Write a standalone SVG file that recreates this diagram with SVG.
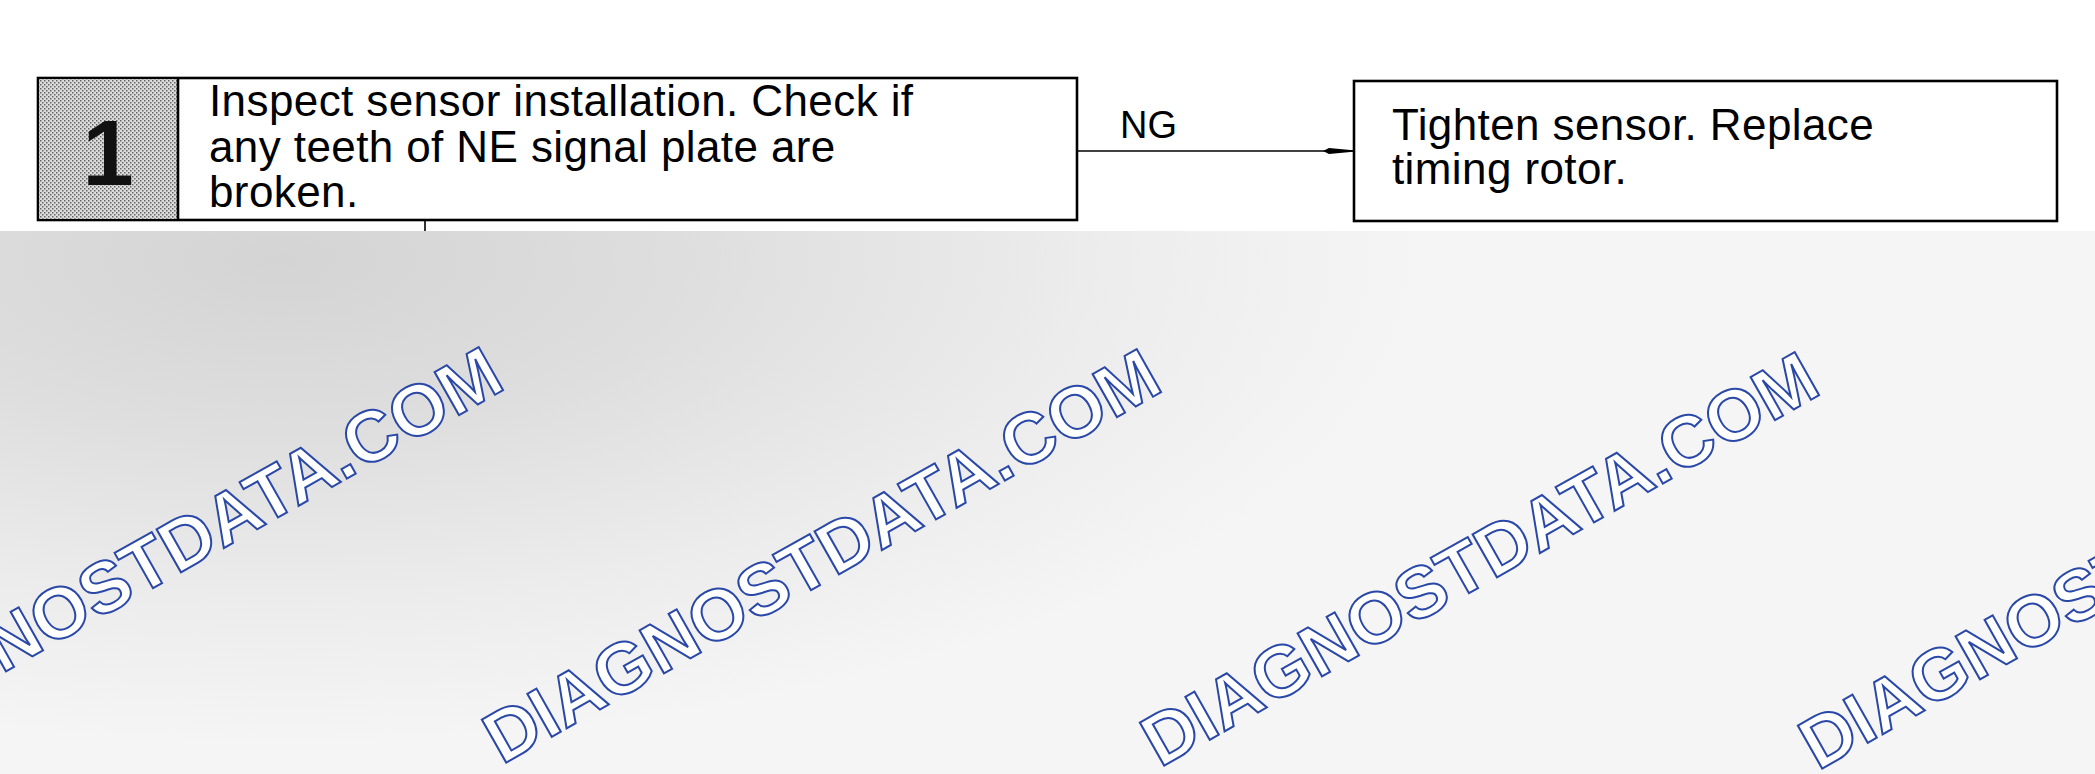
<svg xmlns="http://www.w3.org/2000/svg" width="2095" height="774" viewBox="0 0 2095 774">
  <defs>
    <radialGradient id="bg" gradientUnits="userSpaceOnUse" cx="280" cy="260" r="1150" gradientTransform="translate(280 260) scale(1 0.42) translate(-280 -260)">
      <stop offset="0" stop-color="#d4d4d4"/>
      <stop offset="0.35" stop-color="#dedede"/>
      <stop offset="0.7" stop-color="#ececed"/>
      <stop offset="1" stop-color="#f5f5f6"/>
    </radialGradient>
    <pattern id="halftone" width="4" height="4" patternUnits="userSpaceOnUse">
      <rect width="4" height="4" fill="#dcdcdc"/>
      <rect x="0" y="0" width="1.5" height="1.5" fill="#666"/>
      <rect x="2" y="2" width="1.5" height="1.5" fill="#666"/>
    </pattern>
    <marker id="arrow" viewBox="0 0 30 8" refX="30" refY="4" markerWidth="30" markerHeight="8" markerUnits="userSpaceOnUse" orient="auto">
      <path d="M0,4 L6,1 L30,3.2 L30,4.8 L6,7 Z" fill="#000"/>
    </marker>
    <style>
      .box { fill: #fff; stroke: #000; stroke-width: 2.6; }
      .txt { font-family: "Liberation Sans", Arial, sans-serif; font-size: 44px; letter-spacing: 0.4px; fill: #000; }
      .num { font-family: "Liberation Sans", Arial, sans-serif; font-size: 92px; font-weight: bold; fill: #111; }
      .lbl { font-family: "Liberation Sans", Arial, sans-serif; font-size: 38px; fill: #000; }
      .conn { stroke: #000; stroke-width: 1.6; fill: none; }
      .wm { font-family: "Liberation Sans", Arial, sans-serif; font-size: 72px; font-weight: bold; fill: #fff; stroke: #2a48a8; stroke-width: 2; }
    </style>
  </defs>

  <rect x="0" y="0" width="2095" height="774" fill="#fff"/>
  <rect id="photo-bg" x="0" y="231" width="2095" height="543" fill="url(#bg)"/>

  <g id="watermarks">
    <text class="wm" x="-156" y="763" textLength="762" lengthAdjust="spacingAndGlyphs" transform="rotate(-29.5 -156 763)">DIAGNOSTDATA.COM</text>
    <text class="wm" x="502" y="765" textLength="762" lengthAdjust="spacingAndGlyphs" transform="rotate(-29.5 502 765)">DIAGNOSTDATA.COM</text>
    <text class="wm" x="1160" y="768" textLength="762" lengthAdjust="spacingAndGlyphs" transform="rotate(-29.5 1160 768)">DIAGNOSTDATA.COM</text>
    <text class="wm" x="1818" y="771" textLength="762" lengthAdjust="spacingAndGlyphs" transform="rotate(-29.5 1818 771)">DIAGNOSTDATA.COM</text>
  </g>

  <g id="connectors">
    <line class="conn" x1="1077" y1="151" x2="1353" y2="151" marker-end="url(#arrow)"/>
    <text class="lbl" x="1120" y="138">NG</text>
    <line class="conn" x1="425" y1="221" x2="425" y2="231"/>
  </g>

  <g id="step1">
    <rect class="box" x="38" y="78" width="1039" height="142"/>
    <rect x="39.3" y="79.3" width="138.7" height="139.4" fill="url(#halftone)"/>
    <line x1="178" y1="78" x2="178" y2="220" stroke="#000" stroke-width="2.6"/>
    <text class="num" x="108" y="185" text-anchor="middle">1</text>
    <text class="txt" x="209" y="116">Inspect sensor installation. Check if</text>
    <text class="txt" x="209" y="162">any teeth of NE signal plate are</text>
    <text class="txt" x="209" y="207">broken.</text>
  </g>

  <g id="action">
    <rect class="box" x="1354" y="81" width="703" height="140" stroke-width="2.2"/>
    <text class="txt" x="1392" y="140">Tighten sensor. Replace</text>
    <text class="txt" x="1392" y="184">timing rotor.</text>
  </g>
</svg>
